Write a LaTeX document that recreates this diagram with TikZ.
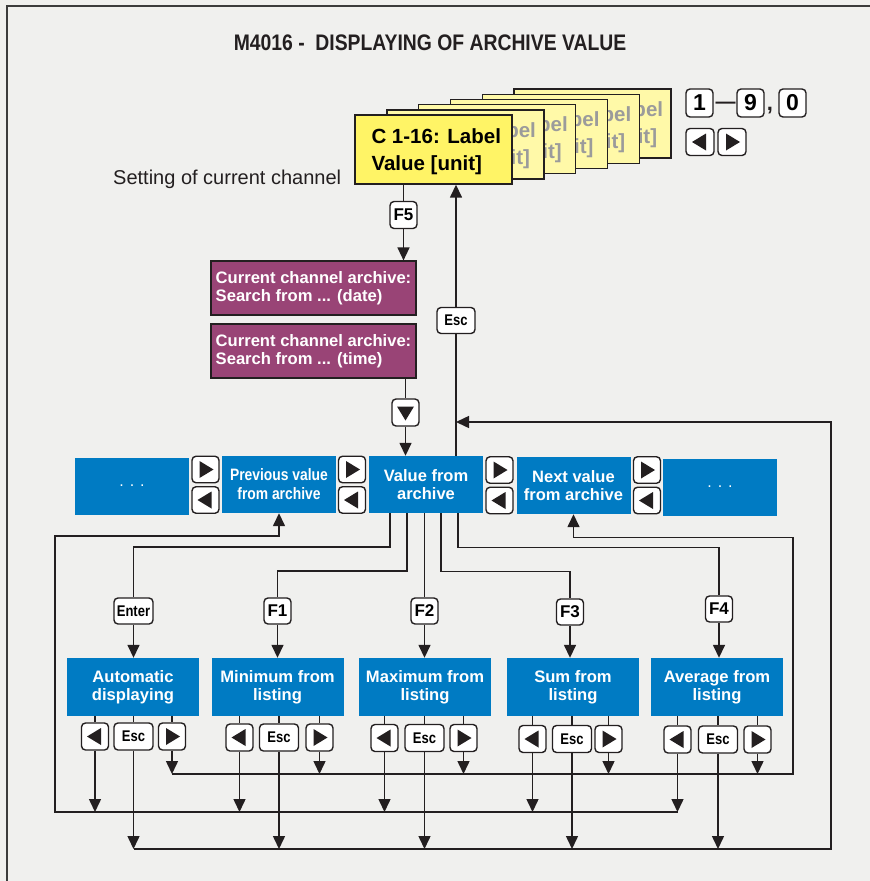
\documentclass[tikz,border=0pt]{standalone}
\usepackage{fontspec}
\setmainfont{Liberation Sans}
\newfontfamily\narrowfont[FakeStretch=0.84]{Liberation Sans}
\newfontfamily\titlefont[FakeStretch=0.86]{Liberation Sans}
\usetikzlibrary{arrows.meta}
\definecolor{bg}{RGB}{240,240,238}
\definecolor{linec}{RGB}{35,31,32}
\definecolor{framec}{RGB}{60,60,60}
\definecolor{boxblue}{RGB}{0,123,195}
\definecolor{boxpurple}{RGB}{153,68,118}
\definecolor{yfront}{RGB}{255,244,102}
\definecolor{yback}{RGB}{255,249,168}
\definecolor{ghost}{RGB}{155,155,155}
\begin{document}
\begin{tikzpicture}[x=1pt,y=-1pt,
  ln/.style={draw=linec, line width=1.5pt},
  arr/.style={draw=linec, line width=1.5pt, -{Triangle[length=13pt,width=12pt]}},
  keybox/.style={draw=linec, fill=white, line width=1.4pt, rounded corners=4pt,
    minimum width=27pt, minimum height=27pt, inner sep=0pt, text=black,
    font=\bfseries\fontsize{17}{17}\selectfont},
  esckey/.style={keybox, minimum width=39pt, font=\narrowfont\bfseries\fontsize{15.5}{15.5}\selectfont},
  digkey/.style={keybox, minimum height=28pt, font=\bfseries\fontsize{23}{23}\selectfont},
  keyR/.style={keybox, path picture={\fill[linec, sharp corners]
      ([shift={(-6,-8.5)}]path picture bounding box.center) -- ++(14,8.5) -- ++(-14,8.5) -- cycle;}},
  keyL/.style={keybox, path picture={\fill[linec, sharp corners]
      ([shift={(6,-8.5)}]path picture bounding box.center) -- ++(-14,8.5) -- ++(14,8.5) -- cycle;}},
  keyD/.style={keybox, path picture={\fill[linec, sharp corners]
      ([shift={(-8.5,-6)}]path picture bounding box.center) -- ++(17,0) -- ++(-8.5,14) -- cycle;}},
  bluebox/.style={fill=boxblue, text=white, inner sep=0pt, minimum width=114pt,
    minimum height=57pt, align=center, font=\bfseries\fontsize{16.5}{18}\selectfont},
  lowbox/.style={bluebox, minimum width=132pt, minimum height=58pt, font=\bfseries\fontsize{16.6}{18}\selectfont},
  purplebox/.style={fill=boxpurple, draw=linec, line width=1.2pt, text=white, inner sep=0pt,
    minimum width=205pt, minimum height=54pt, align=left, font=\bfseries\fontsize{16.6}{18}\selectfont},
  ycard/.style={draw=linec, line width=1.4pt, fill=yback, minimum width=157pt, minimum height=69pt, inner sep=0pt},
  ytext/.style={anchor=west, align=left, inner sep=0pt, text=black, font=\bfseries\fontsize{20.5}{27}\selectfont},
  yfrag/.style={anchor=base east, inner sep=0pt, text=ghost, font=\bfseries\fontsize{20.5}{20.5}\selectfont},
]
\useasboundingbox (0,0) rectangle (870,881);
\fill[bg] (0,0) rectangle (870,881);
\draw[framec, line width=2pt] (7,881) -- (7,6) -- (870,6);

% title
\node[font=\titlefont\bfseries\fontsize{22.5}{22.5}\selectfont, text=linec] (title) at (430,43) {M4016 -\ \ DISPLAYING OF ARCHIVE VALUE};

% stacked channel cards (back to front); only the uncovered ends of their texts show
\foreach \k in {5,4,3,2,1} {
  \node[ycard] (card\k) at ({355+31.8*\k+78.5}, {115-5.2*\k+34.5}) {};
  \node[yfrag] at ([xshift=150pt, yshift=-28pt]card\k.north west) {bel};
  \node[yfrag] at ([xshift=144pt, yshift=-55pt]card\k.north west) {it]};
}
\node[ycard, fill=yfront] (ych) at (433.5,149.5) {};
\node[ytext] (ychtext) at ([xshift=17pt, yshift=-1.75pt]ych.west) {C 1-16: Label\\Value [unit]};

% keys top right
\node[digkey] (k1) at (699.5,103) {1};
\node[font=\bfseries\fontsize{20}{20}\selectfont, text=linec, inner sep=0pt] (kdash) at (725.5,105) {—};
\node[digkey] (k9) at (750.5,103) {9};
\node[font=\bfseries\fontsize{22}{22}\selectfont, text=linec, inner sep=0pt] (kcomma) at (770,111) {,};
\node[digkey] (k0) at (792.5,103) {0};
\node[keyL, minimum width=28pt] (kTL) at (700,142) {};
\node[keyR, minimum width=28pt] (kTR) at (732,142) {};

\node[anchor=base west, inner sep=0pt, text=linec, font=\fontsize{20}{20}\selectfont] (setting) at (113,184.5) {Setting of current channel};

% F5 and archive search
\node[keybox] (kF5) at (403.5,215) {F5};
\node[purplebox] (p1) at (313.5,288) {Current channel archive:\\Search from ... (date)};
\node[purplebox] (p2) at (313.5,351) {Current channel archive:\\Search from ... (time)};
\node[keyD] (kDown) at (405.5,412.5) {};

% Esc back to channel
\node[esckey, minimum width=38pt, minimum height=26pt] (kEscUp) at (456,320.5) {Esc};

% archive browsing row
\node[bluebox, font=\fontsize{16}{18}\selectfont] (dotsL) at (132,486) {. . .};
\node[bluebox, font=\narrowfont\bfseries\fontsize{16.5}{19}\selectfont] (prev) at (279,484.5) {Previous value\\from archive};
\node[bluebox] (val) at (426,484.5) {Value from\\archive};
\node[bluebox] (next) at (573.5,485.5) {Next value\\from archive};
\node[bluebox, font=\fontsize{16}{18}\selectfont] (dotsR) at (720,487) {. . .};

\node[keyR, minimum height=26.5pt] (s1R) at (205.5,469.5) {};
\node[keyL, minimum height=26.5pt] (s1L) at (205.5,500) {};
\node[keyR, minimum height=26.5pt] (s2R) at (352,469.5) {};
\node[keyL, minimum height=26.5pt] (s2L) at (352,500) {};
\node[keyR, minimum height=26.5pt] (s3R) at (499.5,470) {};
\node[keyL, minimum height=26.5pt] (s3L) at (499.5,500.5) {};
\node[keyR, minimum height=26.5pt] (s4R) at (647,470) {};
\node[keyL, minimum height=26.5pt] (s4L) at (647,500.5) {};

% function keys
\node[esckey, minimum height=26pt] (kEnter) at (133.5,611) {Enter};
\node[keybox, minimum height=26pt] (kF1) at (277.5,611) {F1};
\node[keybox, minimum height=26pt] (kF2) at (424.5,611) {F2};
\node[keybox, minimum height=26pt] (kF3) at (570,612) {F3};
\node[keybox, minimum height=26pt] (kF4) at (719,609) {F4};

% lower boxes
\node[lowbox] (bAuto) at (133,687) {Automatic\\displaying};
\node[lowbox] (bMin) at (277.5,687) {Minimum from\\listing};
\node[lowbox] (bMax) at (425,687) {Maximum from\\listing};
\node[lowbox] (bSum) at (573,687) {Sum from\\listing};
\node[lowbox] (bAvg) at (717,687) {Average from\\listing};

% keys under lower boxes
\node[keyL] (aL) at (95,736.5) {};
\node[esckey] (aE) at (133.5,736.5) {Esc};
\node[keyR] (aR) at (172,736.5) {};
\node[keyL] (mL) at (239.5,737.5) {};
\node[esckey] (mE) at (279,737.5) {Esc};
\node[keyR] (mR) at (319.5,737.5) {};
\node[keyL] (xL) at (384.5,738) {};
\node[esckey] (xE) at (424.5,738) {Esc};
\node[keyR] (xR) at (463.5,738) {};
\node[keyL] (sL) at (532.5,739) {};
\node[esckey] (sE) at (572,739) {Esc};
\node[keyR] (sR) at (608.5,739) {};
\node[keyL] (vL) at (677.5,739.5) {};
\node[esckey] (vE) at (718,739.5) {Esc};
\node[keyR] (vR) at (757.5,739.5) {};

% bus levels and corners
\coordinate (lvlR) at (0,774);
\coordinate (lvlL) at (0,812);
\coordinate (lvlE) at (0,849);
\coordinate (cLB) at (55,812);
\coordinate (cLT) at (55,536);
\coordinate (cRB) at (793,774);
\coordinate (cRT) at (793,537.5);
\coordinate (cOB) at (831,849);
\coordinate (cOT) at (831,422);

% top connectors
\draw[ln] (kF5 |- ych.south) -- (kF5.north);
\draw[arr] (kF5.south) -- (kF5 |- p1.north);
\draw[ln] (kDown |- p2.south) -- (kDown.north);
\draw[arr] (kDown.south) -- (kDown |- val.north);
\draw[ln] (kEscUp |- val.north) -- (kEscUp.south);
\draw[arr] (kEscUp.north) -- (kEscUp |- ych.south);

% function key connectors
\draw[ln] ([xshift=-36pt]val.south) -- ++(0,34) -| (kEnter.north);
\draw[ln] ([xshift=-19pt]val.south) -- ++(0,58) -| (kF1.north);
\draw[ln] (kF2 |- val.south) -- (kF2.north);
\draw[ln] ([xshift=15pt]val.south) -- ++(0,58.5) -| (kF3.north);
\draw[ln] ([xshift=32pt]val.south) -- ++(0,34.5) -| (kF4.north);
\draw[arr] (kEnter.south) -- (kEnter |- bAuto.north);
\draw[arr] (kF1.south) -- (kF1 |- bMin.north);
\draw[arr] (kF2.south) -- (kF2 |- bMax.north);
\draw[arr] (kF3.south) -- (kF3 |- bSum.north);
\draw[arr] (kF4.south) -- (kF4 |- bAvg.north);

% stubs from lower boxes to their keys
\foreach \k/\b in {aL/bAuto,aE/bAuto,aR/bAuto,mL/bMin,mE/bMin,mR/bMin,xL/bMax,xE/bMax,xR/bMax,sL/bSum,sE/bSum,sR/bSum,vL/bAvg,vE/bAvg,vR/bAvg}
  \draw[ln] (\k |- \b.south) -- (\k.north);

% arrows down to the buses
\foreach \k in {aL,mL,xL,sL,vL} \draw[arr] (\k.south) -- (\k |- lvlL);
\foreach \k in {aE,mE,xE,sE,vE} \draw[arr] (\k.south) -- (\k |- lvlE);
\foreach \k in {aR,mR,xR,sR,vR} \draw[arr] (\k.south) -- (\k |- lvlR);

% buses
\draw[arr] (vL |- lvlL) -- (cLB) -- (cLT) -- (prev |- cLT) -- (prev.south);
\draw[arr] (aR |- lvlR) -- (cRB) -- (cRT) -- (next |- cRT) -- (next.south);
\draw[arr] (aE |- lvlE) -- (cOB) -- (cOT) -- (kEscUp |- cOT);
\end{tikzpicture}
\end{document}
